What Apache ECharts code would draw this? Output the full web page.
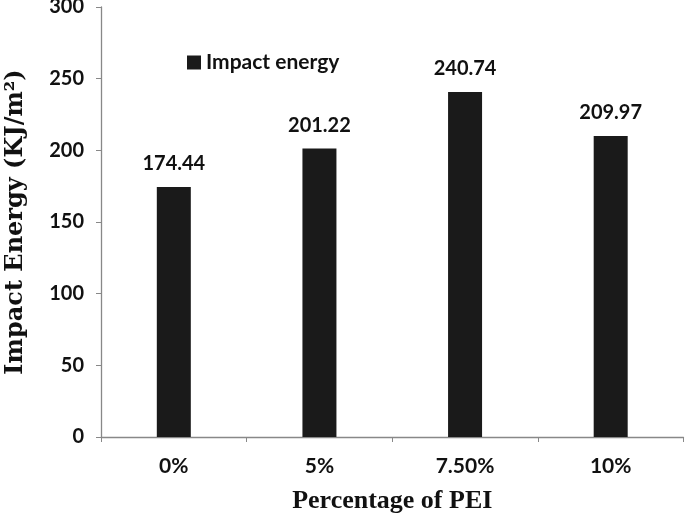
<!DOCTYPE html>
<html><head><meta charset="utf-8">
<script src="https://cdn.jsdelivr.net/npm/echarts@6/dist/echarts.min.js"></script>
<style>html,body{margin:0;padding:0;background:#fff}#c{width:685px;height:517px}</style>
</head><body><div id="c"></div>
<script>
const categories = ['0%', '5%', '7.50%', '10%'];
const impactEnergy = [174.44, 201.22, 240.74, 209.97];
const seriesName = 'Impact energy';
const yTitle = 'Impact Energy (KJ/m²)';
const xTitle = 'Percentage of PEI';

const chart = echarts.init(document.getElementById('c'), null, {renderer: 'canvas'});
chart.setOption({
  animation: false,
  backgroundColor: '#fff',
  grid: {left: 101, right: 1.5, top: 7, bottom: 80, containLabel: false, outerBoundsMode: 'none'},
  legend: {
    left: 182, top: 47,
    itemWidth: 14, itemHeight: 14, itemGap: 6,
    icon: 'rect',
    data: [seriesName],
    textStyle: {fontFamily: 'Lato', fontWeight: 'bold', fontSize: 21, color: '#111'}
  },
  xAxis: {
    type: 'category',
    data: categories,
    name: xTitle,
    nameLocation: 'middle',
    nameGap: 51,
    nameTextStyle: {fontFamily: 'Liberation Serif', fontWeight: 'bold', fontSize: 26, color: '#111'},
    axisLine: {lineStyle: {color: '#888', width: 1.3}},
    axisTick: {show: true, length: 5, alignWithLabel: false, lineStyle: {color: '#888'}},
    axisLabel: {fontFamily: 'Lato', fontWeight: 'bold', fontSize: 21, color: '#111', margin: 19}
  },
  yAxis: {
    type: 'value',
    min: 0, max: 300, interval: 50,
    name: yTitle,
    nameLocation: 'middle',
    nameGap: 73,
    nameRotate: 90,
    nameTextStyle: {fontFamily: 'DejaVu Serif', fontWeight: 'bold', fontSize: 24, color: '#111'},
    axisLine: {show: true, lineStyle: {color: '#888', width: 1.3}},
    axisTick: {show: true, length: 5, lineStyle: {color: '#888'}},
    splitLine: {show: false},
    axisLabel: {fontFamily: 'Lato', fontWeight: 'bold', fontSize: 20, color: '#111', margin: 17}
  },
  series: [{
    name: seriesName,
    type: 'bar',
    data: impactEnergy,
    barWidth: 34,
    itemStyle: {color: '#1a1a1a'},
    label: {
      show: true, position: 'top', distance: 13,
      fontFamily: 'Lato', fontWeight: 'bold', fontSize: 20, color: '#111',
      formatter: p => p.value.toFixed(2)
    }
  }]
});
</script></body></html>
